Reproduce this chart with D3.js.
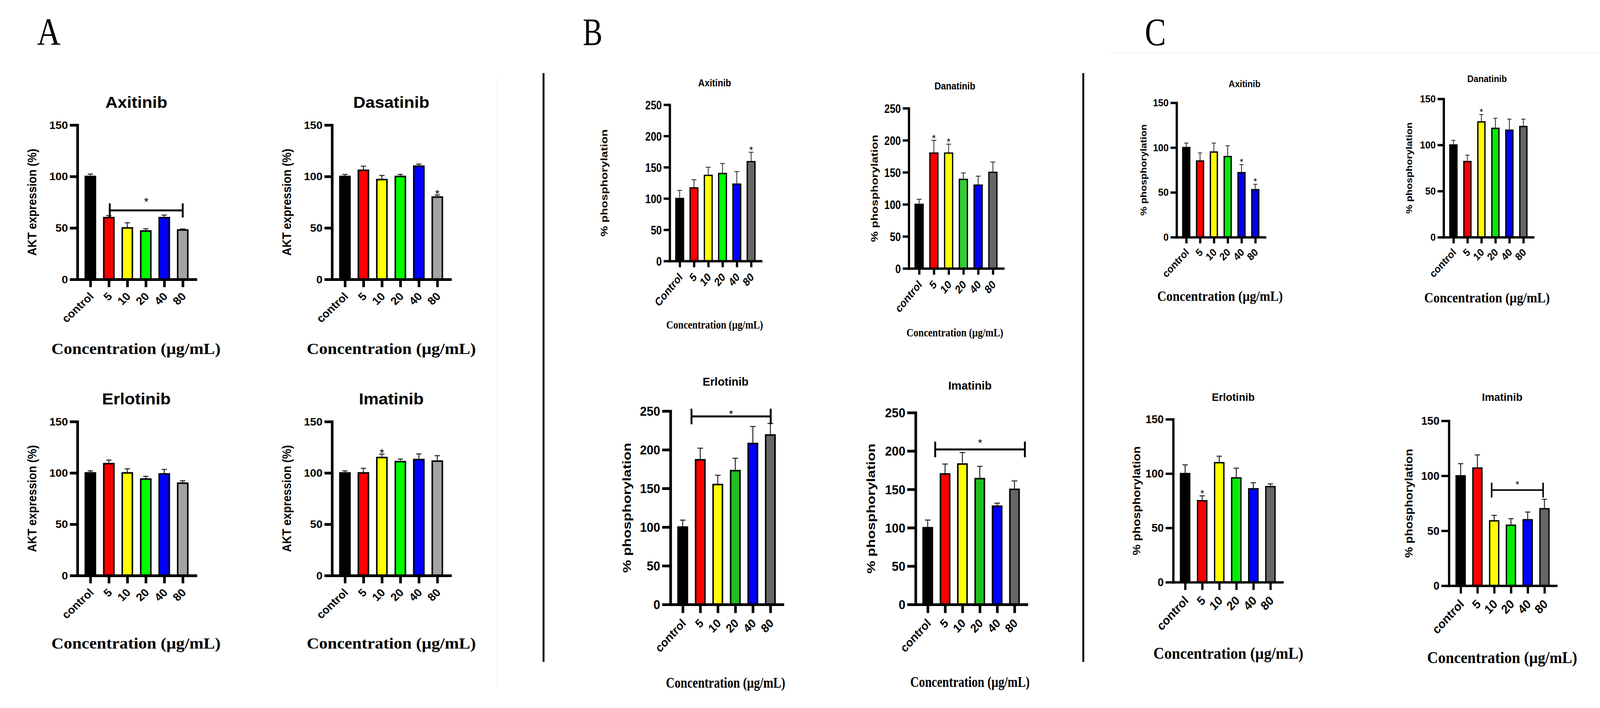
<!DOCTYPE html>
<html>
<head>
<meta charset="utf-8">
<script src="https://cdn.jsdelivr.net/npm/d3@7"></script>
<style>
  html, body { margin: 0; padding: 0; background: #fff; overflow: hidden; }
  #fig { display: block; width: 100vw; height: 100vh; }
</style>
</head>
<body>
<svg id="fig" viewBox="0 0 4236 1812" preserveAspectRatio="none"></svg>
<script>
const SANS = "'Liberation Sans', Arial, sans-serif";
const SERIF = "'Liberation Serif', 'Times New Roman', serif";

// x categories
const doseLabels = ["control", "5", "10", "20", "40", "80"];
const doseLabelsCap = ["Control", "5", "10", "20", "40", "80"];

// Panel A: AKT expression (%)
const aktAxitinib = [100, 60, 50, 47, 60, 48];
const aktAxitinibSem = [2.3, 2, 5, 2.2, 2.5, 1];
const aktDasatinib = [100, 106, 97, 100, 110, 80];
const aktDasatinibSem = [2, 4, 4, 2, 2, 2];
const aktErlotinib = [100, 109, 100, 94, 99, 90];
const aktErlotinibSem = [2, 3.5, 4, 2.7, 4.4, 2.3];
const aktImatinib = [100, 100, 115, 111, 113, 111.5];
const aktImatinibSem = [2, 4.5, 3.3, 2.5, 5.5, 5.3];

// Panel B: % phosphorylation
const phosBAxitinib = [100, 117, 137, 140, 123, 159];
const phosBAxitinibSem = [13, 13, 13, 16, 20, 15];
const phosBDanatinib = [100, 180, 180, 139, 130, 150];
const phosBDanatinibSem = [8, 20, 14, 10, 14, 16];
const phosBErlotinib = [100, 187, 155, 173, 208, 219];
const phosBErlotinibSem = [9, 15, 12, 16, 22, 15];
const phosBImatinib = [100, 170, 183, 164, 128, 150];
const phosBImatinibSem = [10, 13, 15, 16, 4, 11];

// Panel C: % phosphorylation
const phosCAxitinib = [100, 85, 95, 90, 72, 53];
const phosCAxitinibSem = [5, 9, 10, 12, 9, 6];
const phosCDanatinib = [100, 82, 125, 118, 116, 120];
const phosCDanatinibSem = [5, 7, 8, 11, 12, 8];
const phosCErlotinib = [100, 75, 110, 96, 86, 88];
const phosCErlotinibSem = [8, 4.5, 6, 9, 5.6, 2.5];
const phosCImatinib = [100, 107, 59, 55, 60, 70];
const phosCImatinibSem = [11, 12, 5, 6, 7, 8.6];

const ticks150 = [0, 50, 100, 150];
const ticks250 = [0, 50, 100, 150, 200, 250];

// bar colours
const palA = ["#000000", "#ff0000", "#ffff00", "#00ff00", "#0000ff", "#a3a3a3"];
const palBtop = ["#000000", "#ff0000", "#ffff00", "#00ff00", "#0000ff", "#666666"];
const palBdan = ["#000000", "#ff0000", "#ffff00", "#33cc33", "#0000ff", "#666666"];
const palBbot = ["#000000", "#ff0000", "#ffff00", "#1fbf1f", "#0000ff", "#666666"];
const palCax = ["#000000", "#ff0000", "#ffff00", "#00ee00", "#0000ff", "#0000ff"];
const palC = ["#000000", "#ff0000", "#ffff00", "#00ee00", "#0000ff", "#666666"];

// look of each block of charts; text entries are [font size, horizontal squeeze]
const styleA = { axisW: 7, tickLen: 20, barFrac: 0.63, barStroke: 4, errW: 2.5, capW: 14,
  tick: [27, 1.1], xtick: [28, 1.1], ylab: [29, 1.1], title: [40, 1.12], conc: [41, 1.1],
  star: [30, 1], starGap: 10, brW: 5, brCap: 18 };
const styleBtop = { axisW: 6, tickLen: 16, barFrac: 0.63, barStroke: 3.3, errW: 2, capW: 13,
  tick: [32, 0.82], xtick: [30, 0.85], ylab: [30.5, 0.82], title: [25, 0.95], conc: [30, 0.86],
  star: [26, 1], starGap: 11, brW: 5, brCap: 18 };
const styleBbot = { axisW: 7, tickLen: 22, barFrac: 0.62, barStroke: 4, errW: 2.5, capW: 15,
  tick: [34, 0.95], xtick: [31, 0.95], ylab: [37, 0.82], title: [30, 1], conc: [37, 0.86],
  star: [28, 1], starGap: 12, brW: 5, brCap: 20 };
const styleCtop = { axisW: 6, tickLen: 16, barFrac: 0.6, barStroke: 3.5, errW: 2, capW: 11,
  tick: [25, 1], xtick: [27, 0.95], ylab: [26, 0.9], title: [23, 1], conc: [36, 0.93],
  star: [24, 1], starGap: 12, brW: 4, brCap: 18 };
const styleCbot = { axisW: 6, tickLen: 20, barFrac: 0.62, barStroke: 3.5, errW: 2.5, capW: 14,
  tick: [29, 1], xtick: [32, 0.95], ylab: [31, 0.9], title: [28, 1], conc: [43, 0.93],
  star: [26, 1], starGap: 12, brW: 4, brCap: 19 };

const charts = [
  { title: "Axitinib", vals: aktAxitinib, sem: aktAxitinibSem, cats: doseLabels, pal: palA, yMax: 150, ticks: ticks150,
    yLabel: "AKT expression  (%)", st: styleA, bracket: { from: 1.05, to: 5, level: 67, starGap: 29 },
    box: { x0: 205, x1: 518, top: 320, bottom: 715, yLabX: 85, titleX: 361, titleY: 276, concX: 360, concY: 906 } },
  { title: "Dasatinib", vals: aktDasatinib, sem: aktDasatinibSem, cats: doseLabels, pal: palA, yMax: 150, ticks: ticks150,
    yLabel: "AKT expression  (%)", st: styleA, stars: [5],
    box: { x0: 879, x1: 1192, top: 320, bottom: 715, yLabX: 759, titleX: 1036, titleY: 276, concX: 1036, concY: 906 } },
  { title: "Erlotinib", vals: aktErlotinib, sem: aktErlotinibSem, cats: doseLabels, pal: palA, yMax: 150, ticks: ticks150,
    yLabel: "AKT expression  (%)", st: styleA,
    box: { x0: 205, x1: 518, top: 1079, bottom: 1473, yLabX: 85, titleX: 361, titleY: 1035, concX: 360, concY: 1660 } },
  { title: "Imatinib", vals: aktImatinib, sem: aktImatinibSem, cats: doseLabels, pal: palA, yMax: 150, ticks: ticks150,
    yLabel: "AKT expression  (%)", st: styleA, stars: [2],
    box: { x0: 879, x1: 1192, top: 1079, bottom: 1473, yLabX: 759, titleX: 1036, titleY: 1035, concX: 1036, concY: 1660 } },

  { title: "Axitinib", vals: phosBAxitinib, sem: phosBAxitinibSem, cats: doseLabelsCap, pal: palBtop, yMax: 250, ticks: ticks250,
    yLabel: "% phosphorylation", st: styleBtop, stars: [5],
    box: { x0: 1773, x1: 2015, top: 268, bottom: 668, yLabX: 1599, titleX: 1892, titleY: 221, concX: 1892, concY: 841 } },
  { title: "Danatinib", vals: phosBDanatinib, sem: phosBDanatinibSem, cats: doseLabels, pal: palBdan, yMax: 250, ticks: ticks250,
    yLabel: "% phosphorylation", st: styleBtop, stars: [1, 2],
    box: { x0: 2406, x1: 2656, top: 277, bottom: 687, yLabX: 2315, titleX: 2528, titleY: 229, concX: 2528, concY: 861 } },
  { title: "Erlotinib", vals: phosBErlotinib, sem: phosBErlotinibSem, cats: doseLabels, pal: palBbot, yMax: 250, ticks: ticks250,
    yLabel: "% phosphorylation", st: styleBbot, bracket: { from: 0.5, to: 5.02, level: 243, starGap: 13 },
    box: { x0: 1775, x1: 2072, top: 1052, bottom: 1547, yLabX: 1659, titleX: 1921, titleY: 987, concX: 1921, concY: 1760 } },
  { title: "Imatinib", vals: phosBImatinib, sem: phosBImatinibSem, cats: doseLabels, pal: palBbot, yMax: 250, ticks: ticks250,
    yLabel: "% phosphorylation", st: styleBbot, bracket: { from: 0.43, to: 5.6, level: 202, starGap: 23 },
    box: { x0: 2424, x1: 2718, top: 1056, bottom: 1547, yLabX: 2306, titleX: 2568, titleY: 997, concX: 2568, concY: 1758 } },

  { title: "Axitinib", vals: phosCAxitinib, sem: phosCAxitinibSem, cats: doseLabels, pal: palCax, yMax: 150, ticks: ticks150,
    yLabel: "% phosphorylation", st: styleCtop, stars: [4, 5],
    box: { x0: 3115, x1: 3349, top: 263, bottom: 607, yLabX: 3027, titleX: 3295, titleY: 223, concX: 3230, concY: 770 } },
  { title: "Danatinib", vals: phosCDanatinib, sem: phosCDanatinibSem, cats: doseLabels, pal: palC, yMax: 150, ticks: ticks150,
    yLabel: "% phosphorylation", st: styleCtop, stars: [2],
    box: { x0: 3822, x1: 4059, top: 253, bottom: 607, yLabX: 3730, titleX: 3937, titleY: 210, concX: 3937, concY: 774 } },
  { title: "Erlotinib", vals: phosCErlotinib, sem: phosCErlotinibSem, cats: doseLabels, pal: palC, yMax: 150, ticks: ticks150,
    yLabel: "% phosphorylation", st: styleCbot, stars: [1],
    box: { x0: 3106, x1: 3395, top: 1073, bottom: 1490, yLabX: 3009, titleX: 3265, titleY: 1026, concX: 3252, concY: 1686 } },
  { title: "Imatinib", vals: phosCImatinib, sem: phosCImatinibSem, cats: doseLabels, pal: palC, yMax: 150, ticks: ticks150,
    yLabel: "% phosphorylation", st: styleCbot, bracket: { from: 1.85, to: 4.92, level: 87, starGap: 20 },
    box: { x0: 3836, x1: 4120, top: 1077, bottom: 1499, yLabX: 3730, titleX: 3977, titleY: 1026, concX: 3977, concY: 1697 } }
];

const svg = d3.select("#fig");
svg.append("rect").attr("width", 4236).attr("height", 1812).attr("fill", "#fff");

function addText(g, x, y, str, o) {
  return g.append("text")
    .attr("transform", `translate(${x},${y}) scale(${o.sx || 1},1) rotate(${o.rot || 0})`)
    .attr("text-anchor", o.anchor || "middle")
    .attr("dy", o.dy || 0)
    .style("font-family", o.family || SANS)
    .style("font-weight", o.weight || "bold")
    .style("font-size", o.size + "px")
    .attr("fill", "#000")
    .text(str);
}

// faint frame lines left over from the pasted images
svg.append("line").attr("x1", 1317).attr("x2", 1317).attr("y1", 198).attr("y2", 1760)
  .attr("stroke", "#f1f1f1").attr("stroke-width", 2);
svg.append("line").attr("x1", 2938).attr("x2", 4236).attr("y1", 135).attr("y2", 135)
  .attr("stroke", "#f1f1f1").attr("stroke-width", 2);

// dividers between panels
[1439, 2868].forEach(x => {
  svg.append("line").attr("x1", x).attr("x2", x).attr("y1", 187).attr("y2", 1694)
    .attr("stroke", "#000").attr("stroke-width", 5);
});

// panel letters
addText(svg, 98, 115, "A", { size: 100, family: SERIF, weight: "normal", anchor: "start", sx: 0.86 });
addText(svg, 1543, 115, "B", { size: 100, family: SERIF, weight: "normal", anchor: "start", sx: 0.78 });
addText(svg, 3031, 115, "C", { size: 100, family: SERIF, weight: "normal", anchor: "start", sx: 0.84 });

function drawChart(c) {
  const b = c.box, st = c.st;
  const g = svg.append("g");

  const x = d3.scalePoint().domain(c.cats).range([b.x0, b.x1]).padding(0.7);
  const y = d3.scaleLinear().domain([0, c.yMax]).range([b.bottom, b.top]);
  const step = x.step();
  const bw = step * st.barFrac - st.barStroke;
  const xAt = i => x(c.cats[0]) + i * step;

  const rows = c.cats.map((k, i) => ({ k, v: c.vals[i], e: c.sem[i], col: c.pal[i], i }));

  // bars
  g.selectAll("rect.bar").data(rows).join("rect")
    .attr("class", "bar")
    .attr("x", d => x(d.k) - bw / 2)
    .attr("width", bw)
    .attr("y", d => y(d.v))
    .attr("height", d => b.bottom - y(d.v))
    .attr("fill", d => d.col)
    .attr("stroke", "#000")
    .attr("stroke-width", st.barStroke);

  // upper error bars
  const eg = g.append("g").attr("stroke", "#222").attr("stroke-width", st.errW);
  eg.selectAll("line.v").data(rows).join("line")
    .attr("x1", d => x(d.k)).attr("x2", d => x(d.k))
    .attr("y1", d => y(d.v) - st.barStroke / 2).attr("y2", d => y(d.v + d.e));
  eg.selectAll("line.h").data(rows).join("line")
    .attr("x1", d => x(d.k) - st.capW / 2).attr("x2", d => x(d.k) + st.capW / 2)
    .attr("y1", d => y(d.v + d.e)).attr("y2", d => y(d.v + d.e));

  // axes
  const yAxis = d3.axisLeft(y).tickValues(c.ticks).tickSize(st.tickLen).tickSizeOuter(0).tickFormat("");
  const ya = g.append("g").attr("transform", `translate(${b.x0},0)`).call(yAxis);
  const xAxis = d3.axisBottom(x).tickSize(st.tickLen).tickSizeOuter(0).tickFormat("");
  const xa = g.append("g").attr("transform", `translate(0,${b.bottom})`).call(xAxis);
  [ya, xa].forEach(a => {
    a.select(".domain").attr("stroke", "#000").attr("stroke-width", st.axisW).attr("stroke-linecap", "square");
    a.selectAll(".tick line").attr("stroke", "#000").attr("stroke-width", st.axisW);
  });

  // y tick labels
  c.ticks.forEach(t => {
    addText(g, b.x0 - st.tickLen - 5, y(t), t,
      { size: st.tick[0], sx: st.tick[1], anchor: "end", dy: "0.36em" });
  });
  // x tick labels, rotated
  const [xf, xs] = st.xtick;
  c.cats.forEach(k => {
    addText(g, x(k) + 0.35 * xf * xs, b.bottom + st.tickLen + 0.9 * xf, k,
      { size: xf, sx: xs, anchor: "end", rot: -45 });
  });

  // single-bar stars
  (c.stars || []).forEach(i => {
    const yc = y(c.vals[i] + c.sem[i]) - st.starGap;
    addText(g, xAt(i), yc + 0.56 * st.star[0], "*", { size: st.star[0], sx: st.star[1], weight: "normal" });
  });

  // bracket over a group of bars
  if (c.bracket) {
    const br = c.bracket, yb = y(br.level);
    const bg = g.append("g").attr("stroke", "#000").attr("stroke-width", st.brW);
    bg.append("line").attr("x1", xAt(br.from)).attr("x2", xAt(br.to)).attr("y1", yb).attr("y2", yb);
    [br.from, br.to].forEach(i => {
      bg.append("line").attr("x1", xAt(i)).attr("x2", xAt(i))
        .attr("y1", yb - st.brCap).attr("y2", yb + st.brCap);
    });
    const yc = yb - br.starGap;
    addText(g, (xAt(br.from) + xAt(br.to)) / 2, yc + 0.56 * st.star[0], "*",
      { size: st.star[0], sx: st.star[1], weight: "normal" });
  }

  // titles and axis labels
  addText(g, b.titleX, b.titleY, c.title, { size: st.title[0], sx: st.title[1] });
  addText(g, b.yLabX, (b.top + b.bottom) / 2, c.yLabel,
    { size: st.ylab[0], sx: st.ylab[1], rot: -90, dy: "0.36em" });
  addText(g, b.concX, b.concY, "Concentration (\u00b5g/mL)",
    { size: st.conc[0], sx: st.conc[1], family: SERIF });
}

charts.forEach(drawChart);
</script>
</body>
</html>
